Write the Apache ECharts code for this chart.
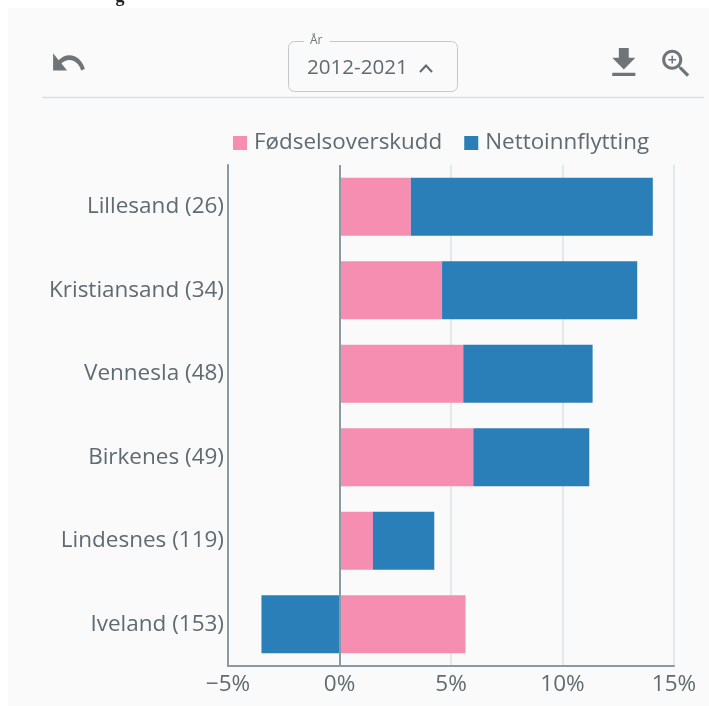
<!DOCTYPE html>
<html>
<head>
<meta charset="utf-8">
<style>
  html, body { margin: 0; padding: 0; background: #fff; }
  #chart { width: 709px; height: 706px; }
</style>
<script src="https://cdn.jsdelivr.net/npm/echarts@6/dist/echarts.min.js"></script>
</head>
<body>
<div id="chart"></div>
<script>
var categories = ['Lillesand (26)', 'Kristiansand (34)', 'Vennesla (48)', 'Birkenes (49)', 'Lindesnes (119)', 'Iveland (153)'];
var fodselsoverskudd = [3.2, 4.6, 5.55, 6.0, 1.5, 5.65];
var nettoinnflytting = [10.85, 8.75, 5.8, 5.2, 2.75, -3.5];
var seriesNames = ['Fødselsoverskudd', 'Nettoinnflytting'];
var yearLabel = 'År';
var yearValue = '2012-2021';

var textColor = '#5f6b73';
var font = '"Open Sans", "Noto Sans", sans-serif';

// ikoner
echarts.graphic.registerShape('undoIcon', echarts.graphic.extendPath('M12.5 8c-2.65 0-5.05.99-6.9 2.6L2 7v9h9l-3.62-3.62c1.39-1.16 3.16-1.88 5.12-1.88 3.54 0 6.55 2.31 7.6 5.5l2.37-.78C21.08 11.03 17.15 8 12.5 8z'));
echarts.graphic.registerShape('downloadIcon', echarts.graphic.extendPath('M19 9h-4V3H9v6H5l7 7 7-7zM5 18v2h14v-2H5z'));
echarts.graphic.registerShape('zoomIcon', echarts.graphic.extendPath('M15.5 14h-.79l-.28-.27C15.41 12.59 16 11.11 16 9.5 16 5.91 13.09 3 9.5 3S3 5.91 3 9.5 5.91 16 9.5 16c1.61 0 3.09-.59 4.23-1.57l.27.28v.79l5 4.99L20.49 19l-4.99-5zm-6 0C7.01 14 5 11.99 5 9.5S7.01 5 9.5 5 14 7.01 14 9.5 11.99 14 9.5 14zM12 10h-2v2H9v-2H7V9h2V7h1v2h2v1z'));

var myChart = echarts.init(document.getElementById('chart'), null, { renderer: 'canvas' });

myChart.setOption({
    animation: false,
    backgroundColor: '#ffffff',
    textStyle: { fontFamily: font },
    grid: { left: 228, right: 35, top: 165, bottom: 40 },
    legend: {
        data: seriesNames,
        top: 127,
        left: 228,
        itemWidth: 14,
        itemHeight: 14,
        itemGap: 22,
        icon: 'rect',
        textStyle: { color: textColor, fontSize: 22.4, fontFamily: font, padding: [0, 0, 0, 2] }
    },
    xAxis: {
        type: 'value',
        min: -5,
        max: 15,
        interval: 5,
        axisLine: { show: true, lineStyle: { color: '#8a9aa3', width: 2 } },
        axisTick: { show: false },
        splitLine: { show: true, lineStyle: { color: '#e3e8eb', width: 2 } },
        axisLabel: {
            color: textColor,
            fontSize: 22.5,
            margin: 7,
            formatter: function (v) { return (v < 0 ? '−' + (-v) : v) + '%'; }
        }
    },
    yAxis: {
        type: 'category',
        inverse: true,
        data: categories,
        axisLine: { show: true, onZero: false, lineStyle: { color: '#8a9aa3', width: 2 } },
        axisTick: { show: false },
        axisLabel: { color: textColor, fontSize: 22.5, margin: 4 }
    },
    series: [
        {
            name: seriesNames[0],
            type: 'bar',
            stack: 'total',
            barWidth: 58,
            itemStyle: { color: '#f58eb1' },
            data: fodselsoverskudd
        },
        {
            name: seriesNames[1],
            type: 'bar',
            stack: 'total',
            barWidth: 58,
            itemStyle: { color: '#2a7fb8' },
            data: nettoinnflytting,
            // strek ved 0%
            markLine: {
                silent: true,
                symbol: 'none',
                label: { show: false },
                lineStyle: { color: '#8a9aa3', width: 2, type: 'solid' },
                data: [{ xAxis: 0 }]
            }
        }
    ],
    graphic: [
        { type: 'rect', z: -10, shape: { x: 8, y: 8, width: 701, height: 698 }, style: { fill: '#fafafa' } },
        { type: 'text', style: { x: 120, y: 6, text: 'g', fill: '#222', font: 'bold 18px "Liberation Serif", serif', align: 'center', verticalAlign: 'bottom' } },
        { type: 'line', shape: { x1: 42, y1: 97.5, x2: 704, y2: 97.5 }, style: { stroke: '#dcdfe1', lineWidth: 1.5 } },
        // år-velger
        { type: 'rect', shape: { x: 288.5, y: 41.5, width: 169, height: 50, r: 6 }, style: { fill: 'transparent', stroke: '#c4c8ca', lineWidth: 1 } },
        { type: 'rect', shape: { x: 304, y: 38, width: 26, height: 8 }, style: { fill: '#fafafa' } },
        { type: 'text', style: { x: 310, y: 41, text: yearLabel, fill: '#6b757b', font: '12px ' + font, align: 'left', verticalAlign: 'middle' } },
        { type: 'text', style: { x: 307, y: 68, text: yearValue, fill: textColor, font: '20.6px ' + font, align: 'left', verticalAlign: 'middle' } },
        { type: 'polyline', shape: { points: [[420, 72], [426, 65.5], [432, 72]] }, style: { stroke: '#5f6b73', lineWidth: 2, fill: 'none' } },
        { type: 'undoIcon', shape: {}, x: 50, y: 40, scaleX: 1.55, scaleY: 1.9, style: { fill: '#6f7478' } },
        { type: 'downloadIcon', shape: {}, x: 604, y: 43, scaleX: 1.65, scaleY: 1.65, style: { fill: '#6f7478' } },
        { type: 'zoomIcon', shape: {}, x: 657.5, y: 45, scaleX: 1.55, scaleY: 1.55, style: { fill: '#6f7478' } }
    ]
});
</script>
</body>
</html>
